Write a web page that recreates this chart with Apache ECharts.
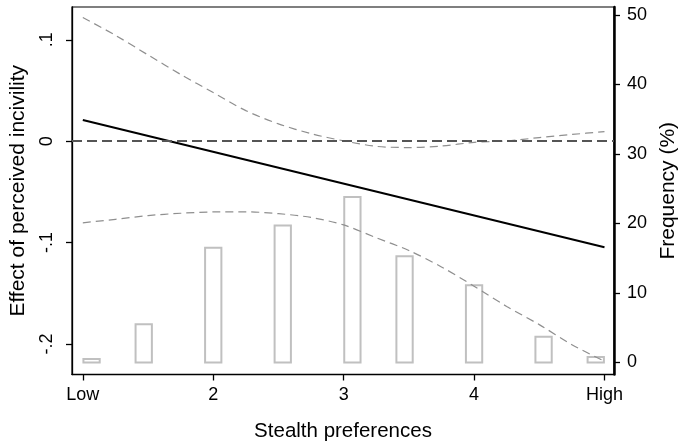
<!DOCTYPE html>
<html>
<head>
<meta charset="utf-8">
<script src="https://cdn.jsdelivr.net/npm/echarts@6/dist/echarts.min.js"></script>
<style>
html,body{margin:0;padding:0;background:#fff;}
#chart{width:681px;height:444px;}
</style>
</head>
<body>
<div id="chart"></div>
<script>
// ---- data ----
const X_TICKS = [1, 2, 3, 4, 5];
const X_TICK_LABELS = ['Low', '2', '3', '4', 'High'];
const EFFECT_TICKS = [-0.2, -0.1, 0, 0.1];
const EFFECT_TICK_LABELS = ['-.2', '-.1', '0', '.1'];
const FREQ_TICKS = [0, 10, 20, 30, 40, 50];

const CI_X = [1, 1.25, 1.5, 1.75, 2, 2.25, 2.5, 2.75, 3, 3.25, 3.5, 3.75, 4, 4.25, 4.5, 4.75, 5];
const CI_UPPER = [0.1219, 0.1044, 0.0850, 0.0658, 0.0479, 0.0301, 0.0171, 0.0074, 0.0003, -0.0051, -0.0063, -0.0048, -0.0012, 0.0003, 0.0035, 0.0066, 0.0094];
const CI_LOWER = [-0.0805, -0.0771, -0.0734, -0.0711, -0.0698, -0.0697, -0.0715, -0.0752, -0.0826, -0.0952, -0.1078, -0.1240, -0.1430, -0.1630, -0.1809, -0.2007, -0.2170];

const EFFECT_X = [1, 5];
const EFFECT_Y = [0.0208, -0.1046];

const BAR_X = [1.067, 1.467, 2.0, 2.533, 3.067, 3.467, 4.0, 4.533, 4.933];
const BAR_FREQ = [0.5, 5.5, 16.5, 19.7, 23.8, 15.3, 11.1, 3.7, 0.8];

// ---- chart ----
const FONT = "'Liberation Sans', Arial, sans-serif";
const zip = (a, b) => a.map((v, i) => [v, b[i]]);
const labelFrom = (ticks, labels) => (v) => {
  for (let i = 0; i < ticks.length; i++) if (Math.abs(ticks[i] - v) < 1e-9) return labels[i];
  return '';
};
const BAR_HALF = 0.0625;

const chart = echarts.init(document.getElementById('chart'), null, {renderer: 'canvas'});
chart.setOption({
  animation: false,
  backgroundColor: '#fff',
  grid: {left: 72, right: 67, top: 7, bottom: 69.5, show: true, borderColor: '#000', borderWidth: 1.2,
    containLabel: false, outerBoundsMode: 'none'},
  xAxis: {
    type: 'value', min: 0.917, max: 5.073,
    name: 'Stealth preferences', nameLocation: 'middle', nameGap: 46,
    nameTextStyle: {fontFamily: FONT, fontSize: 20.5, color: '#000'},
    axisLine: {show: true, onZero: false, lineStyle: {color: '#000', width: 1.3}},
    axisTick: {show: true, length: 6, customValues: X_TICKS, lineStyle: {color: '#000', width: 1.3}},
    axisLabel: {show: true, customValues: X_TICKS, formatter: labelFrom(X_TICKS, X_TICK_LABELS), margin: 12, fontFamily: FONT, fontSize: 18, color: '#000'},
    splitLine: {show: false}
  },
  yAxis: [{
    type: 'value', position: 'left', min: -0.2301, max: 0.1323,
    name: 'Effect of perceived incivility', nameLocation: 'middle', nameGap: 43, nameRotate: 90,
    nameTextStyle: {fontFamily: FONT, fontSize: 21, color: '#000'},
    axisLine: {show: true, onZero: false, lineStyle: {color: '#000', width: 1.3}},
    axisTick: {show: true, length: 6, customValues: EFFECT_TICKS, lineStyle: {color: '#000', width: 1.3}},
    axisLabel: {show: true, customValues: EFFECT_TICKS, rotate: 90, formatter: labelFrom(EFFECT_TICKS, EFFECT_TICK_LABELS), margin: 16, fontFamily: FONT, fontSize: 18, color: '#000'},
    splitLine: {show: false}
  }, {
    type: 'value', position: 'right', min: -1.73, max: 51.15,
    name: 'Frequency (%)', nameLocation: 'middle', nameGap: 42, nameRotate: 90,
    nameTextStyle: {fontFamily: FONT, fontSize: 21, color: '#000'},
    axisLine: {show: true, onZero: false, lineStyle: {color: '#000', width: 2.5}},
    axisTick: {show: true, length: 6, customValues: FREQ_TICKS, lineStyle: {color: '#000', width: 1.3}},
    axisLabel: {show: true, customValues: FREQ_TICKS, formatter: (v) => String(v), margin: 13, fontFamily: FONT, fontSize: 18, color: '#000'},
    splitLine: {show: false}
  }],
  series: [{
    type: 'custom', yAxisIndex: 1, silent: true,
    data: zip(BAR_X, BAR_FREQ),
    renderItem: function (params, api) {
      const x = api.value(0), v = api.value(1);
      const p0 = api.coord([x - BAR_HALF, 0]);
      const p1 = api.coord([x + BAR_HALF, v]);
      return {type: 'rect', shape: {x: p0[0], y: p1[1], width: p1[0] - p0[0], height: p0[1] - p1[1]},
        style: {fill: 'none', stroke: '#c0c0c0', lineWidth: 2}};
    },
    z: 1
  }, {
    type: 'line', yAxisIndex: 0, data: zip(CI_X, CI_UPPER), smooth: 0.3, symbol: 'none',
    lineStyle: {color: '#8f8f8f', width: 1.2, type: [8, 5]}, z: 2,
    markLine: {silent: true, symbol: 'none', label: {show: false},
      lineStyle: {color: '#555', width: 2.2, type: [10, 5]}, data: [{yAxis: 0}]}
  }, {
    type: 'line', yAxisIndex: 0, data: zip(CI_X, CI_LOWER), smooth: 0.3, symbol: 'none',
    lineStyle: {color: '#8f8f8f', width: 1.2, type: [8, 5]}, z: 2
  }, {
    type: 'line', yAxisIndex: 0, data: zip(EFFECT_X, EFFECT_Y), symbol: 'none',
    lineStyle: {color: '#000', width: 2}, z: 3
  }]
});
</script>
</body>
</html>
